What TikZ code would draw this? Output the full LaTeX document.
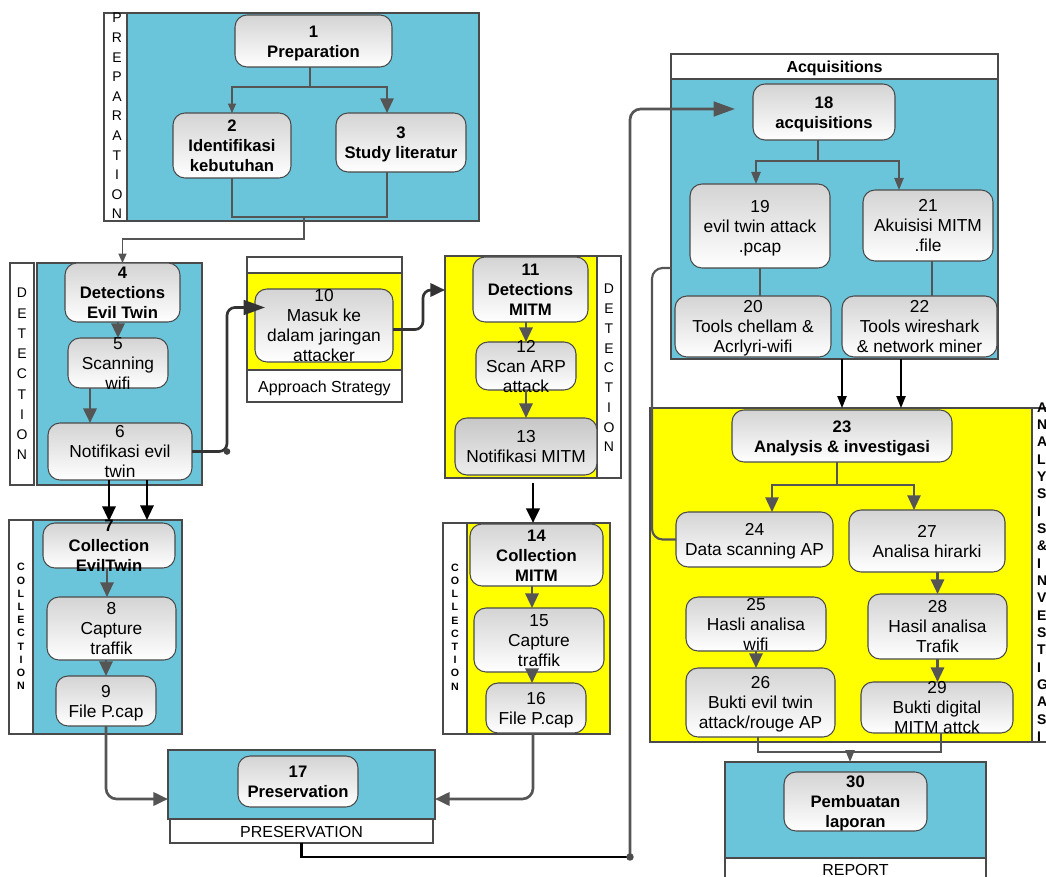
\documentclass[tikz,border=0pt]{standalone}
\usepackage{fontspec}
\setmainfont{Liberation Sans}
\usetikzlibrary{arrows.meta,calc}

\definecolor{cyanfill}{HTML}{6BC5DA}
\definecolor{yel}{HTML}{FFFF00}
\definecolor{edge}{HTML}{4A4A4A}
\definecolor{lgray}{HTML}{555555}

% box placed by its corners (x1,y1)-(x2,y2), text kept centred without growing the box
\newcommand\boxat[7][]{%
  \node[#1, minimum width={(#5-#3)*0.75pt}, minimum height={(#6-#4)*0.75pt}]
    (#2) at ({(#3+#5)/2},{(#4+#6)/2})
    {\raisebox{-4.7pt}[0pt][0pt]{\begin{tabular}{@{}c@{}}#7\end{tabular}}};}

\tikzset{
  base/.style={inner sep=0pt, outer sep=0pt},
  regtxt/.style={font=\fontsize{13pt}{15pt}\selectfont},
  boldtxt/.style={font=\fontsize{12.5pt}{15pt}\selectfont\bfseries},
  proc/.style={base, regtxt, draw=edge, line width=0.8pt, rounded corners=9pt,
    top color=black!17, bottom color=white},
  procb/.style={proc, boldtxt},
  procgray/.style={proc, top color=black!22, bottom color=black!7},
  cont/.style={base, draw=edge, line width=1.2pt,
    font=\fontsize{12pt}{14pt}\selectfont},
  bluebox/.style={cont, fill=cyanfill},
  yelbox/.style={cont, fill=yel},
  whitebox/.style={cont, fill=white},
  letters/.style={base, align=center},
  thinln/.style={draw=lgray, line width=1pt},
  medln/.style={draw=lgray, line width=1.6pt},
  thickgray/.style={draw=lgray, line width=2pt},
  thickdark/.style={draw=black!80, line width=2pt},
  blackthick/.style={draw=black, line width=2.2pt},
  blackmed/.style={draw=black, line width=1.6pt},
  thinblack/.style={draw=black, line width=1pt},
  arrS/.style={-{Triangle[length=7pt,width=6pt]}},
  arrT/.style={-{Triangle[length=9pt,width=7pt]}},
  arrM/.style={-{Triangle[length=11pt,width=10pt]}},
  arrL/.style={-{Triangle[length=16pt,width=11pt]}},
}

\begin{document}
\begin{tikzpicture}[x=0.75pt,y=-0.75pt]
\useasboundingbox (0,0) rectangle (1046,877);

% ---------- containers ----------
\boxat[whitebox]{prepstrip}{104}{13}{127}{221}{}
\boxat[bluebox]{prepbox}{127}{13}{479}{221}{}
\boxat[whitebox]{detstrip}{10}{263}{34}{485}{}
\boxat[bluebox]{detbox}{37}{263}{202}{485}{}
\boxat[whitebox]{apptop}{247}{257}{402}{273}{}
\boxat[yelbox]{appbox}{247}{273}{402}{370}{}
\boxat[whitebox]{applabel}{247}{370}{402}{402}{Approach Strategy}
\boxat[yelbox]{mitmbox}{445}{256}{597}{478}{}
\boxat[whitebox]{mitmstrip}{597}{256}{621}{478}{}
\boxat[whitebox]{colstrip}{9}{520}{33}{734}{}
\boxat[bluebox]{colbox}{33}{520}{182}{734}{}
\boxat[whitebox]{col2strip}{443}{523}{467}{734}{}
\boxat[yelbox]{col2box}{467}{523}{610}{734}{}
\boxat[bluebox]{presbox}{168}{750}{435}{819}{}
\boxat[whitebox]{preslabel}{170}{819}{433}{843}{PRESERVATION}
\boxat[whitebox,font=\fontsize{12pt}{14pt}\selectfont\bfseries]{acqtitle}{671}{54}{998}{79}{Acquisitions}
\boxat[bluebox]{acqbox}{671}{79}{998}{359}{}
\boxat[yelbox]{anbox}{650}{408}{1032}{742}{}
\boxat[whitebox]{anstrip}{1032}{408}{1075}{742}{}
\boxat[bluebox]{repbox}{725}{762}{986}{858}{}
\boxat[whitebox]{replabel}{725}{858}{986}{881}{REPORT}

% ---------- vertical strip captions ----------
\node[letters, font=\fontsize{10.5pt}{14.7pt}\selectfont] (preptxt) at (117,116)
  {P\\R\\E\\P\\A\\R\\A\\T\\I\\O\\N};
\node[letters, font=\fontsize{10.5pt}{15.2pt}\selectfont] (dettxt) at (22,374)
  {D\\E\\T\\E\\C\\T\\I\\O\\N};
\node[letters, font=\fontsize{10.5pt}{14.8pt}\selectfont] (det2txt) at (609,368)
  {D\\E\\T\\E\\C\\T\\I\\O\\N};
\node[letters, font=\fontsize{8pt}{9.9pt}\selectfont\bfseries] (coltxt) at (21,626.5)
  {C\\O\\L\\L\\E\\C\\T\\I\\O\\N};
\node[letters, font=\fontsize{8pt}{9.9pt}\selectfont\bfseries] (col2txt) at (455,627)
  {C\\O\\L\\L\\E\\C\\T\\I\\O\\N};
\node[base, align=left, anchor=west, font=\fontsize{10.5pt}{13pt}\selectfont\bfseries]
  (antxt) at (1037,572)
  {A\\N\\A\\L\\Y\\S\\I\\S\\\&\\I\\N\\V\\E\\S\\T\\I\\G\\A\\S\\I};

% ---------- process steps ----------
\boxat[procb]{n1}{235}{15}{392}{67}{1\\Preparation}
\boxat[procb]{n2}{173}{113}{291}{178}{2\\Identifikasi\\kebutuhan}
\boxat[procb]{n3}{336}{113}{466}{172}{3\\Study literatur}
\boxat[procb]{n4}{65}{263}{180}{322}{4\\Detections\\Evil Twin}
\boxat[proc]{n5}{68}{338}{168}{388}{5\\Scanning\\wifi}
\boxat[proc]{n6}{48}{423}{192}{480}{6\\Notifikasi evil\\twin}
\boxat[proc]{n10}{255}{289}{393}{362}{10\\Masuk ke\\dalam jaringan\\attacker}
\boxat[procb]{n11}{473}{257}{588}{322}{11\\Detections\\MITM}
\boxat[proc]{n12}{476}{342}{576}{390}{12\\Scan ARP\\attack}
\boxat[procgray]{n13}{455}{418}{597}{475}{13\\Notifikasi MITM}
\boxat[procb]{n7}{43}{523}{175}{568}{7\\Collection\\EvilTwin}
\boxat[proc]{n8}{47}{597}{176}{660}{8\\Capture\\traffik}
\boxat[proc]{n9}{56}{676}{156}{726}{9\\File P.cap}
\boxat[procb]{n14}{470}{524}{603}{586}{14\\Collection\\MITM}
\boxat[proc]{n15}{474}{608}{604}{672}{15\\Capture\\traffik}
\boxat[proc]{n16}{486}{683}{586}{733}{16\\File P.cap}
\boxat[procb]{n17}{238}{756}{358}{807}{17\\Preservation}
\boxat[procb]{n18}{753}{84}{895}{140}{18\\acquisitions}
\boxat[proc]{n19}{690}{184}{830}{268}{19\\evil twin attack\\.pcap}
\boxat[proc]{n20}{675}{296}{831}{357}{20\\Tools chellam \&\\Acrlyri-wifi}
\boxat[proc]{n21}{863}{190}{993}{261}{21\\Akuisisi MITM\\.file}
\boxat[proc]{n22}{842}{296}{997}{357}{22\\Tools wireshark\\\& network miner}
\boxat[procb]{n23}{732}{410}{952}{462}{23\\Analysis \& investigasi}
\boxat[proc]{n24}{676}{512}{833}{567}{24\\Data scanning AP}
\boxat[proc]{n27}{849}{510}{1005}{572}{27\\Analisa hirarki}
\boxat[proc]{n25}{686}{597}{826}{651}{25\\Hasli analisa\\wifi}
\boxat[proc]{n26}{686}{668}{835}{737}{26\\Bukti evil twin\\attack/rouge AP}
\boxat[proc]{n28}{868}{594}{1007}{659}{28\\Hasil analisa\\Trafik}
\boxat[proc]{n29}{861}{682}{1013}{733}{29\\Bukti digital\\MITM attck}
\boxat[procb]{n30}{784}{772}{927}{831}{30\\Pembuatan\\laporan}

% ---------- preparation ----------
\draw[thinln] ($(n1.south)+(-3.5,0)$) -- ++(0,20) coordinate (ps);
\draw[thinln, arrS] (ps) -| (n2.north);
\draw[thinln, line width=1.4pt, arrM] (ps) -| ($(n3.north)+(-14,0)$);
\draw[thinln] (n2.south) -- ++(0,39) -| ($(n3.south)+(-14,0)$);
\draw[thinln, arrS] ($(n2.south)+(72,39)$) -- ++(0,22) -| (n4.north);

% ---------- evil twin detection ----------
\draw[medln, arrM] (n4.south -| n5.north) -- (n5.north);
\draw[thickgray, arrM] ($(n5.south)+(-28,0)$) -- ($(n6.north)+(-30,0)$);
\draw[thickdark, rounded corners=6pt, arrL] (n6.east) -- ++(35,0) coordinate (d6)
  |- ($(n10.west)+(10,-18)$);
\fill[black!75] (d6) circle (2.5pt);
\draw[thickdark, rounded corners=6pt, arrM] ($(n10.east)+(0,4)$) -- ++(30,0)
  |- ($(mitmbox.west)+(0,-77)$);

% ---------- MITM detection ----------
\draw[medln, arrM] (n11.south -| n12.north) -- (n12.north);
\draw[medln, arrM] (n12.south) -- (n12.south |- n13.north);
\draw[blackthick, arrM] ($(n13.south)+(7,8)$) -- ($(n14.north)+(-3.5,-1)$);

% ---------- collection ----------
\draw[blackmed, arrM] ($(n6.south)+(-11,0)$) -- ($(n7.north)+(0,-2)$);
\draw[blackmed, arrM] ($(n6.south)+(27,0)$) -- ($(n7.north)+(38,-3)$);
\draw[medln, arrM] ($(n7.south)+(-2,0)$) -- ($(n8.north)+(-4.5,0)$);
\draw[medln, arrM] (n8.south -| n9.north) -- (n9.north);
\draw[medln, arrM] ($(n14.south)+(-4.5,0)$) -- ($(n15.north)+(-7,0)$);
\draw[medln, arrM] ($(n15.south)+(-7,0)$) -- ($(n16.north)+(-4,0)$);

% ---------- preservation ----------
\draw[thickgray, rounded corners=8pt, arrM] (n9.south) |- ($(presbox.west)+(0,14.5)$);
\draw[thickgray, rounded corners=8pt, arrM] ($(n16.south)+(-3,0)$) |- ($(presbox.east)+(0,14.5)$);
\coordinate (jn) at (630,857);
\draw[blackthick] (preslabel.south) |- (jn);
\draw[thickgray, rounded corners=8pt, arrL] (jn) |- ($(n18.west)+(-18,-3)$);
\fill[black!70] (jn) circle (2.8pt);

% ---------- acquisitions ----------
\draw[thinln] ($(n18.south)+(-6,0)$) -- ++(0,21) coordinate (as);
\draw[thinln, arrT] (as) -| ($(n19.north)+(-4,0)$);
\draw[thinln, arrT] (as) -| ($(n21.north)+(-29,0)$);
\draw[thinln] (n19.south) -- (n19.south |- n20.north);
\draw[thinln] ($(n21.south)+(4,0)$) -- ++(0,35);
\draw[thinblack, arrT] ($(acqbox.south)+(7.5,0)$) -- ($(anbox.north)+(1,0)$);
\draw[thinblack, arrT] ($(acqbox.south)+(66.5,0)$) -- ($(anbox.north)+(60,0)$);

% ---------- analysis ----------
\draw[thinln] ($(n23.south)+(-5,0)$) -- ++(0,23) coordinate (ans);
\draw[thinln, arrM] (ans) -| ($(n24.north)+(17.5,0)$);
\draw[thinln, arrM] (ans) -| ($(n27.north)+(-13,0)$);
\draw[medln, rounded corners=8pt] (n24.west) -| ($(acqbox.west)+(-19,49)$)
  -- ($(acqbox.west)+(0,49)$);
\draw[medln, arrM] (n27.south -| n28.north) -- (n28.north);
\draw[medln, arrM] (n25.south) -- (n25.south |- n26.north);
\draw[medln, arrM] (n28.south) -- (n28.south |- n29.north);

% ---------- report ----------
\draw[thinln] ($(n26.south)+(-2.5,0)$) -- ++(0,15) -| ($(n29.south)+(4,0)$);
\draw[thinln, arrT] ($(repbox.north)+(-5.5,-10)$) -- ($(repbox.north)+(-5.5,0)$);

\end{tikzpicture}
\end{document}
